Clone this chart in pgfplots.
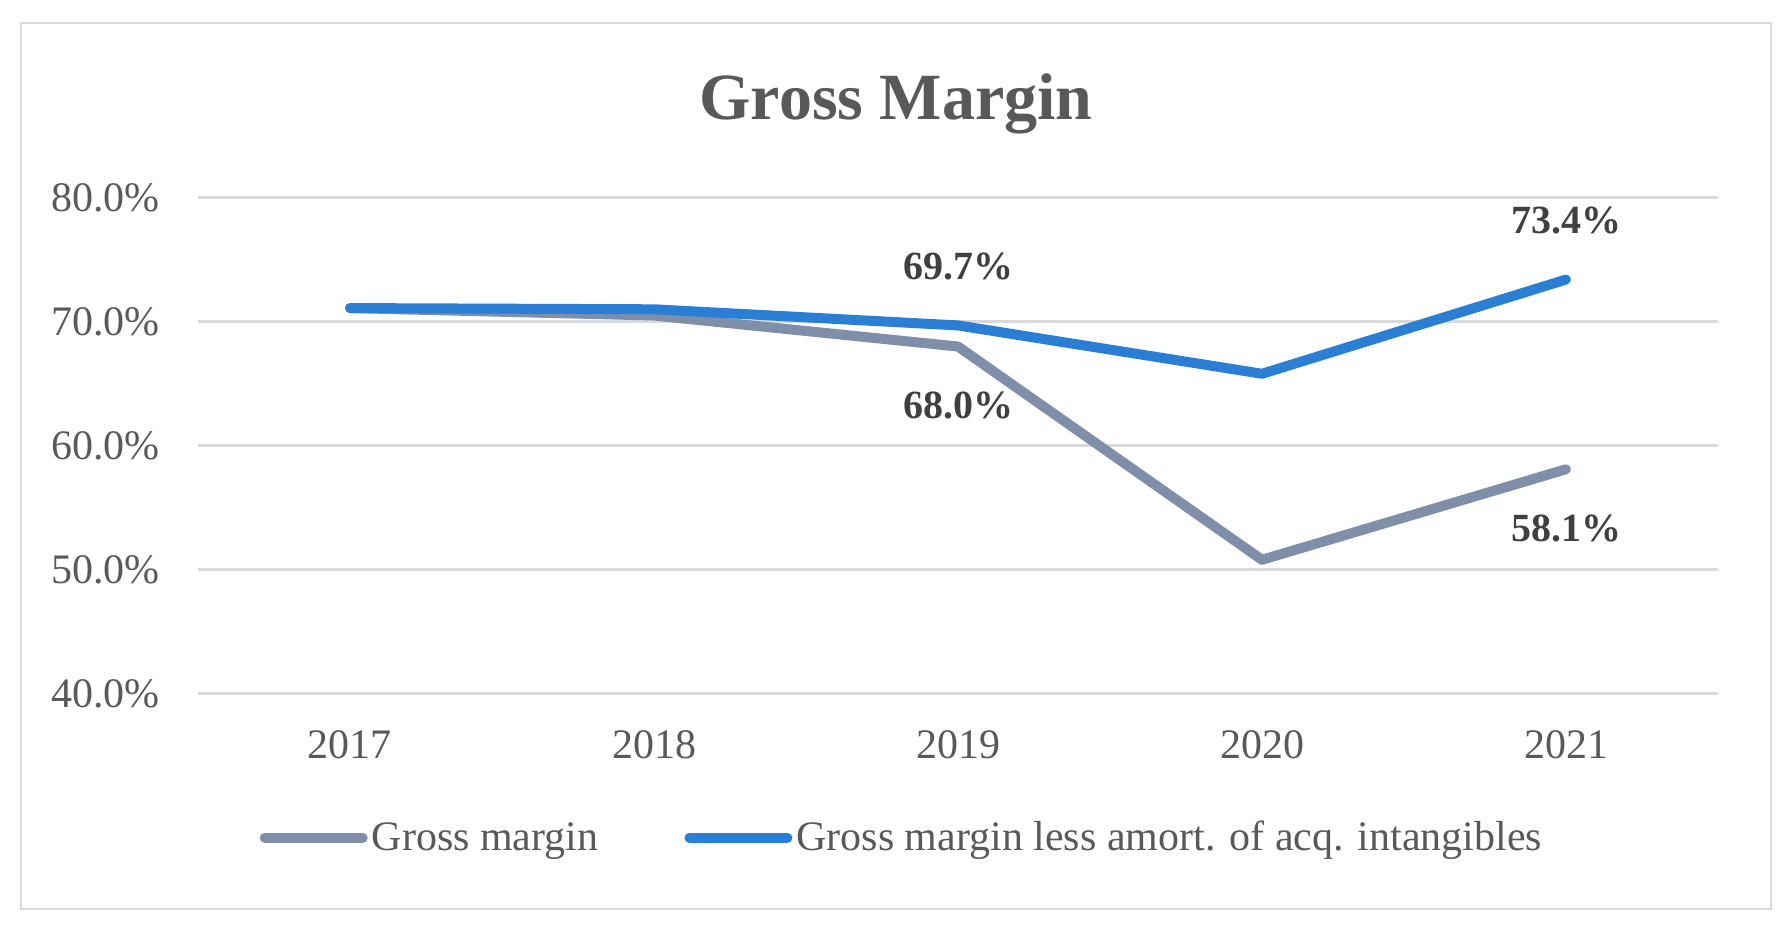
\documentclass[border=0pt]{standalone}
\usepackage{pgfplots}
\pgfplotsset{compat=1.18}
\usepackage{fontspec}
\setmainfont{Liberation Serif}

\definecolor{gmgray}{RGB}{127,143,169}
\definecolor{gmblue}{RGB}{42,127,213}
\definecolor{txtgray}{RGB}{89,89,89}
\definecolor{lbldark}{RGB}{64,64,64}
\definecolor{gridgray}{RGB}{217,217,217}

\begin{document}
\begin{tikzpicture}
  % canvas and chart border
  \path[use as bounding box] (-99pt,-119.15pt) rectangle (797pt,346.85pt);
  \draw[gridgray, line width=1.2pt] (-88.5pt,-107.65pt) rectangle (786.5pt,335.35pt);
  \node[anchor=base, text=txtgray, font=\fontsize{33}{39}\selectfont\bfseries]
    at (349pt,286.85pt) {Gross Margin};

  \begin{axis}[
    at={(0,0)}, anchor=south west,
    scale only axis,
    width=760pt, height=248pt,
    xmin=-0.5, xmax=4.5,
    ymin=40, ymax=80,
    xtick={0,1,2,3,4},
    xticklabels={2017,2018,2019,2020,2021},
    ytick={40,50,60,70,80},
    yticklabel={\pgfmathprintnumber[fixed,fixed zerofill,precision=1]{\tick}\%},
    /pgf/number format/assume math mode=true,
    axis line style={draw=none},
    major tick length=0pt,
    ymajorgrids,
    grid style={gridgray, line width=1.3pt},
    ticklabel style={font=\fontsize{21}{25}\selectfont, text=txtgray, inner sep=0pt},
    xticklabel style={anchor=base, yshift=-32.6pt},
    yticklabel style={anchor=east, xshift=-19pt},
    clip=false,
    legend columns=2,
    legend style={
      at={(0.4638,-0.2903)}, anchor=center,
      draw=none, fill=none,
      font=\fontsize{21}{25}\selectfont, text=txtgray,
      nodes={inner sep=2pt},
      /tikz/every even column/.append style={column sep=41pt},
    },
    legend image code/.code={
      \path (0pt,0pt) -- (49pt,0pt);
      \draw[#1] (2.5pt,0pt) -- (46.5pt,0pt);
    },
  ]
    \addplot[gmgray, line width=5pt, line cap=round, line join=round]
      coordinates {(0,71.1) (1,70.5) (2,68.0) (3,50.8) (4,58.1)};
    \addlegendentry{Gross margin}
    \addplot[gmblue, line width=5pt, line cap=round, line join=round]
      coordinates {(0,71.1) (1,71.0) (2,69.7) (3,65.8) (4,73.4)};
    \addlegendentry{Gross margin less amort. of acq. intangibles}

    % data labels above the points
    \addplot[draw=none, forget plot,
      nodes near coords, point meta=explicit symbolic,
      nodes near coords style={anchor=center, yshift=29.5pt, inner sep=0pt,
        font=\fontsize{20}{24}\selectfont\bfseries, text=lbldark}]
      coordinates {(2,69.7)[69.7\%] (4,73.4)[73.4\%]};
    % data labels below the points
    \addplot[draw=none, forget plot,
      nodes near coords, point meta=explicit symbolic,
      nodes near coords style={anchor=center, yshift=-29.5pt, inner sep=0pt,
        font=\fontsize{20}{24}\selectfont\bfseries, text=lbldark}]
      coordinates {(2,68.0)[68.0\%] (4,58.1)[58.1\%]};
  \end{axis}
\end{tikzpicture}
\end{document}
